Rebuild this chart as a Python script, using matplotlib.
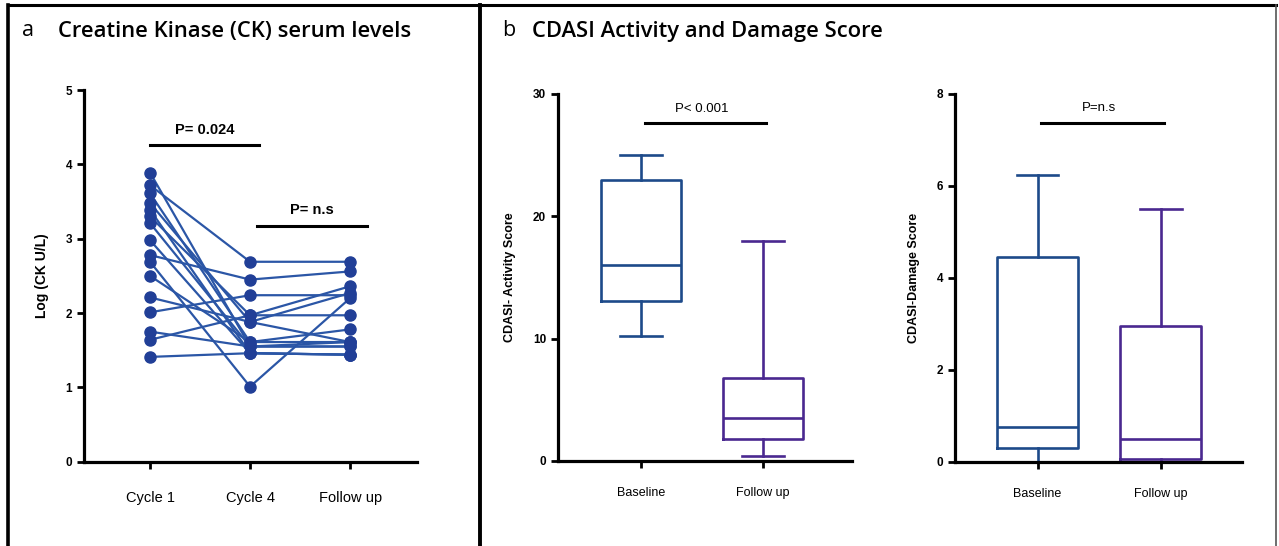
import matplotlib
matplotlib.use("Agg")
import matplotlib.pyplot as plt
from matplotlib.lines import Line2D

# panel a: CK levels per patient (log scale values)
timepoints = ['Cycle 1', 'Cycle 4', 'Follow up']
ck_cycle1 = [3.89, 3.72, 3.61, 3.48, 3.39, 3.30, 3.21, 2.98, 2.78, 2.69, 2.50, 2.21, 2.01, 1.75, 1.64, 1.41]
ck_cycle4 = [1.55, 2.69, 1.61, 1.88, 1.46, 1.97, 1.55, 1.46, 2.45, 1.01, 1.61, 1.88, 2.24, 1.55, 1.97, 1.46]
ck_follow = [1.55, 2.69, 1.78, 2.27, 1.44, 1.97, 1.61, 1.44, 2.56, 2.20, 1.61, 1.61, 2.24, 1.55, 2.36, 1.44]

# panel b: box plot summaries (whislo, q1, med, q3, whishi)
groups = ['Baseline', 'Follow up']
activity_base = [10.2, 13.1, 16.0, 23.0, 25.0]
activity_follow = [0.4, 1.8, 3.5, 6.8, 18.0]
damage_base = [0.0, 0.29, 0.75, 4.46, 6.24]
damage_follow = [0.0, 0.05, 0.49, 2.95, 5.5]

p_labels = ['P= 0.024', 'P= n.s', 'P< 0.001', 'P=n.s']

dot_col = '#213f97'
line_col = '#2b56a6'
base_col = '#1d4a8a'
follow_col = '#4a2890'
tick_font = 'Liberation Sans'

fig = plt.figure(figsize=(12.79, 5.46), dpi=100)


def style_axes(ax, xlim, ylim, yticks):
    for s in ['top', 'right']:
        ax.spines[s].set_visible(False)
    for s in ['left', 'bottom']:
        ax.spines[s].set_linewidth(2.3)
    ax.set_xlim(*xlim)
    ax.set_ylim(*ylim)
    ax.set_yticks(yticks)
    ax.tick_params(axis='both', direction='out', length=5, width=2, colors='black')
    for lab in ax.get_yticklabels():
        lab.set_fontfamily(tick_font)
        lab.set_fontweight('bold')
        lab.set_fontsize(8.5)


# ---- panel a
ax1 = fig.add_axes([0.0657, 0.1544, 0.2604, 0.6806])
for i in range(len(ck_cycle1)):
    ax1.plot([0, 1, 2], [ck_cycle1[i], ck_cycle4[i], ck_follow[i]],
             color=line_col, lw=1.6, marker='o', ms=8,
             mfc=dot_col, mec=dot_col, zorder=3)
style_axes(ax1, (-0.66, 2.67), (0, 5), range(0, 6))
ax1.set_xticks([0, 1, 2])
ax1.set_xticklabels(timepoints, fontfamily=tick_font, fontsize=10.5)
ax1.tick_params(axis='x', pad=16)
ax1.set_ylabel('Log (CK U/L)', fontfamily=tick_font, fontweight='bold',
               fontsize=10, labelpad=12)
ax1.plot([0, 1.09], [4.26, 4.26], color='black', lw=2.2, clip_on=False)
ax1.text(0.55, 4.46, p_labels[0], ha='center', va='center',
         fontfamily=tick_font, fontweight='bold', fontsize=10.5)
ax1.plot([1.07, 2.17], [3.17, 3.17], color='black', lw=2.2, clip_on=False)
ax1.text(1.62, 3.38, p_labels[1], ha='center', va='center',
         fontfamily=tick_font, fontweight='bold', fontsize=10.5)


# ---- panel b boxplots
def box_panel(rect, base, follow, ylim, yticks, ylabel, bar_y, txt_y, ptxt, xlim):
    ax = fig.add_axes(rect)
    stats = []
    for vals, name in zip([base, follow], groups):
        stats.append(dict(whislo=vals[0], q1=vals[1], med=vals[2],
                          q3=vals[3], whishi=vals[4], label=name))
    bp = ax.bxp(stats, positions=[0, 1], widths=0.66, capwidths=0.34,
                showfliers=False, patch_artist=False)
    cols = [base_col, follow_col]
    for k, c in enumerate(cols):
        bp['boxes'][k].set(color=c, lw=1.9)
        bp['medians'][k].set(color=c, lw=1.9)
        for w in bp['whiskers'][2 * k:2 * k + 2]:
            w.set(color=c, lw=1.9)
        for cp in bp['caps'][2 * k:2 * k + 2]:
            cp.set(color=c, lw=1.9)
    style_axes(ax, xlim, ylim, yticks)
    ax.set_xticks([0, 1])
    ax.set_xticklabels(groups, fontfamily=tick_font, fontsize=9)
    ax.tick_params(axis='x', pad=14)
    ax.set_ylabel(ylabel, fontfamily=tick_font, fontweight='bold',
                  fontsize=9, labelpad=12)
    ax.plot([0.03, 1.03], [bar_y, bar_y], color='black', lw=2.2, clip_on=False)
    ax.text(0.5, txt_y, ptxt, ha='center', va='center',
            fontfamily=tick_font, fontsize=9.5)
    return ax


ax2 = box_panel([0.4363, 0.156, 0.2297, 0.672], activity_base, activity_follow,
                (0, 30), [0, 10, 20, 30], 'CDASI- Activity Score',
                27.6, 28.8, p_labels[2], (-0.68, 1.73))
ax3 = box_panel([0.7467, 0.1544, 0.2244, 0.6736], damage_base, damage_follow,
                (0, 8), [0, 2, 4, 6, 8], 'CDASI-Damage Score',
                7.36, 7.7, p_labels[3], (-0.67, 1.66))

# ---- panel titles
fig.text(22 / 1279, 1 - 31 / 546, 'a', fontfamily='Open Sans', fontsize=15.5, va='center')
fig.text(58 / 1279, 1 - 31 / 546, 'Creatine Kinase (CK) serum levels',
         fontfamily='Open Sans', fontweight='semibold', fontsize=15.8, va='center')
fig.text(502 / 1279, 1 - 31 / 546, 'b', fontfamily='Open Sans', fontsize=15.5, va='center')
fig.text(532 / 1279, 1 - 31 / 546, 'CDASI Activity and Damage Score',
         fontfamily='Open Sans', fontweight='semibold', fontsize=15.8, va='center')

# ---- frame lines
fig.add_artist(Line2D([8 / 1279, 1276 / 1279], [1 - 5 / 546, 1 - 5 / 546],
                      color='black', lw=2.2, transform=fig.transFigure))
fig.add_artist(Line2D([8 / 1279, 8 / 1279], [0.0, 1 - 5 / 546],
                      color='black', lw=2.6, transform=fig.transFigure))
fig.add_artist(Line2D([480 / 1279, 480 / 1279], [0.0, 1 - 5 / 546],
                      color='black', lw=2.8, transform=fig.transFigure))
fig.add_artist(Line2D([1276 / 1279, 1276 / 1279], [0.0, 1 - 5 / 546],
                      color='#555555', lw=1.2, transform=fig.transFigure))

fig.savefig('out.png', dpi=100)
